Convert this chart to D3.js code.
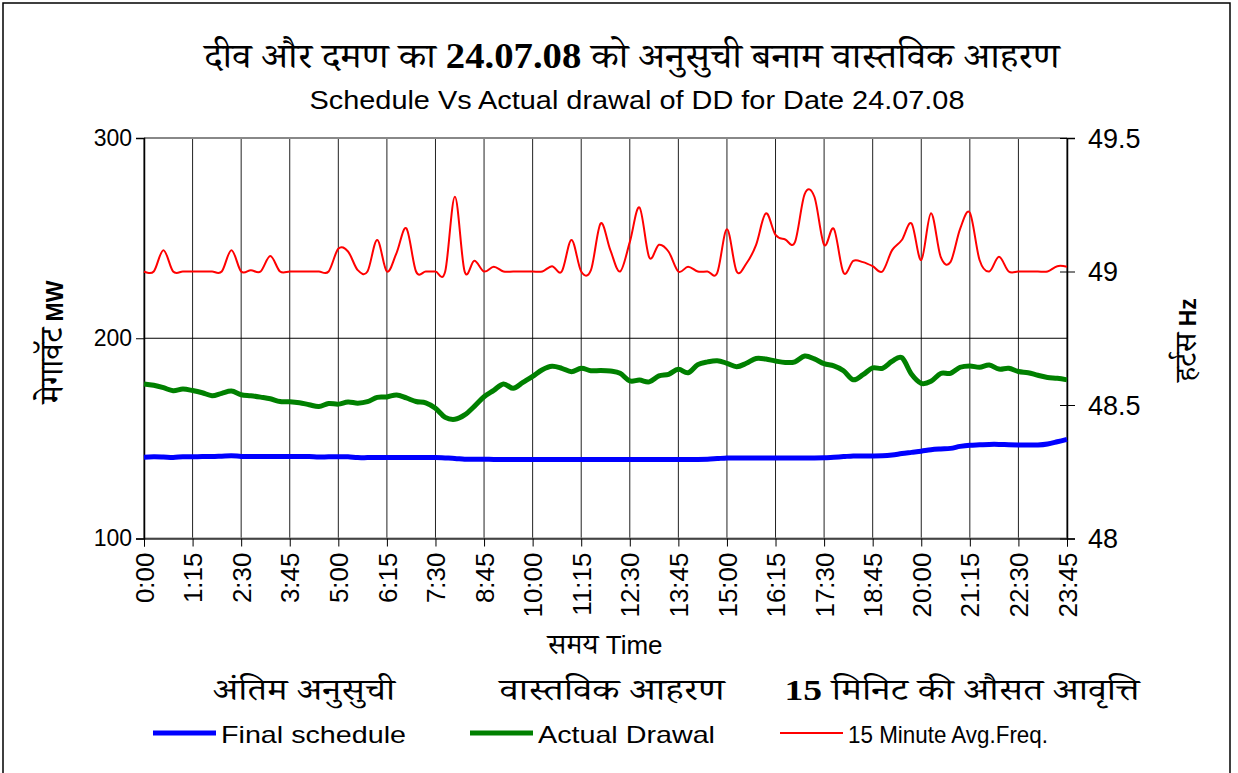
<!DOCTYPE html>
<html><head><meta charset="utf-8">
<script src="https://cdn.jsdelivr.net/npm/d3@7"></script>
<style>
body{margin:0;background:#fff;}
svg{display:block;}
.hi{font-family:"Noto Serif Devanagari","Noto Sans Devanagari","Lohit Devanagari","FreeSerif","Noto Sans",serif;}
.en{font-family:"Liberation Sans",Arial,sans-serif;}
</style></head>
<body>
<svg id="c" width="1238" height="773"></svg>
<script>
const times = ["0:00","0:15","0:30","0:45","1:00","1:15","1:30","1:45","2:00","2:15","2:30","2:45",
"3:00","3:15","3:30","3:45","4:00","4:15","4:30","4:45","5:00","5:15","5:30","5:45",
"6:00","6:15","6:30","6:45","7:00","7:15","7:30","7:45","8:00","8:15","8:30","8:45",
"9:00","9:15","9:30","9:45","10:00","10:15","10:30","10:45","11:00","11:15","11:30","11:45",
"12:00","12:15","12:30","12:45","13:00","13:15","13:30","13:45","14:00","14:15","14:30","14:45",
"15:00","15:15","15:30","15:45","16:00","16:15","16:30","16:45","17:00","17:15","17:30","17:45",
"18:00","18:15","18:30","18:45","19:00","19:15","19:30","19:45","20:00","20:15","20:30","20:45",
"21:00","21:15","21:30","21:45","22:00","22:15","22:30","22:45","23:00","23:15","23:30","23:45"];
const xTickLabels = ["0:00","1:15","2:30","3:45","5:00","6:15","7:30","8:45","10:00","11:15","12:30","13:45","15:00","16:15","17:30","18:45","20:00","21:15","22:30","23:45"];
const leftTicks = [100,200,300];
const rightTicks = [48,48.5,49,49.5];

const finalSchedule = [140.6,140.8,140.7,140.5,140.8,140.8,140.9,140.9,141.1,141.3,141.0,140.9,
140.9,140.9,140.9,140.9,140.9,140.9,140.7,140.8,140.8,140.8,140.4,140.4,
140.4,140.4,140.4,140.4,140.4,140.4,140.4,140.2,140.0,139.6,139.6,139.6,
139.5,139.5,139.5,139.4,139.5,139.5,139.5,139.5,139.4,139.5,139.5,139.5,
139.5,139.5,139.5,139.5,139.5,139.4,139.5,139.5,139.5,139.5,139.6,139.9,
140.2,140.2,140.2,140.2,140.2,140.2,140.2,140.2,140.2,140.2,140.3,140.6,
140.9,141.2,141.2,141.2,141.3,141.7,142.4,143.0,143.6,144.3,144.7,145.0,
146.0,146.6,146.8,147.0,147.0,146.8,146.7,146.7,146.7,147.2,148.3,149.5];

const actualDrawal = [177.2,176.5,175.3,173.8,174.6,173.9,172.8,171.3,172.5,173.6,171.8,171.3,
170.6,169.8,168.4,168.3,167.8,166.8,165.9,167.4,167.1,168.2,167.6,168.3,
170.5,170.7,171.7,170.2,168.4,167.7,165.0,160.5,159.5,161.7,166.0,170.8,
174.0,177.2,175.0,178.0,181.0,184.3,186.0,185.0,183.3,185.0,183.8,183.9,
183.6,182.5,178.7,179.1,178.2,181.2,182.0,184.5,182.8,186.8,188.2,188.8,
187.5,185.8,187.5,189.9,189.6,188.6,187.9,188.2,191.1,189.7,187.3,186.2,
183.8,179.3,181.8,185.2,185.0,188.5,190.3,182.0,177.5,178.5,182.4,182.5,
185.5,186.2,185.5,186.6,184.6,185.0,183.4,182.8,181.5,180.4,180.0,179.2];

const avgFreq = [49.0,49.0,49.08,49.0,49.0,49.0,49.0,49.0,49.0,49.08,49.0,49.005,
49.0,49.058,49.0,49.0,49.0,49.0,49.0,49.0,49.085,49.075,49.005,49.0,
49.118,49.0,49.07,49.162,49.0,49.0,49.0,49.0,49.28,49.0,49.04,49.0,
49.018,49.0,49.0,49.0,49.0,49.0,49.02,49.0,49.118,49.0,49.005,49.18,
49.08,49.0,49.11,49.24,49.053,49.1,49.074,49.0,49.018,49.0,49.0,48.995,
49.158,49.0,49.03,49.1,49.218,49.137,49.12,49.11,49.29,49.28,49.1,49.16,
48.995,49.04,49.035,49.02,49.0,49.08,49.118,49.18,49.043,49.218,49.055,49.035,
49.16,49.22,49.043,49.0,49.055,49.0,49.0,49.0,49.0,49.0,49.02,49.018];

const svg = d3.select("#c");
const L=144, R=1067, T=138, B=538.5;

svg.append("rect").attr("x",3).attr("y",3).attr("width",1227).attr("height",775)
  .attr("fill","none").attr("stroke","#000").attr("stroke-width",1.5);

const x = d3.scalePoint().domain(times).range([L,R]);
const yL = d3.scaleLinear().domain([100,300]).range([B,T]);
const yR = d3.scaleLinear().domain([48,49.5]).range([B,T]);

svg.append("g").selectAll("line").data(xTickLabels).join("line")
  .attr("x1",d=>x(d)).attr("x2",d=>x(d)).attr("y1",T).attr("y2",B)
  .attr("stroke","#222").attr("stroke-width",1);
svg.append("g").selectAll("line").data(leftTicks).join("line")
  .attr("x1",L).attr("x2",R).attr("y1",d=>yL(d)).attr("y2",d=>yL(d))
  .attr("stroke","#000").attr("stroke-width",1);
svg.append("line").attr("x1",L).attr("x2",R).attr("y1",T).attr("y2",T).attr("stroke","#888").attr("stroke-width",2);
svg.append("line").attr("x1",L).attr("x2",R).attr("y1",B).attr("y2",B).attr("stroke","#888").attr("stroke-width",2);

const axL = d3.axisLeft(yL).tickValues(leftTicks).tickSize(8).tickPadding(4).tickFormat(d3.format("d"));
const gL = svg.append("g").attr("transform",`translate(${L},0)`).call(axL);
gL.selectAll("text").attr("class","en").style("font-size","23px").attr("fill","#000");
gL.select(".domain").attr("stroke","#000").attr("stroke-width",1.5);

const axR = d3.axisRight(yR).tickValues(rightTicks).tickSize(8).tickPadding(13).tickFormat(d=>String(d));
const gR = svg.append("g").attr("transform",`translate(${R},0)`).call(axR);
gR.selectAll("text").attr("class","en").style("font-size","27px").attr("fill","#000").attr("dy","0.35em");
gR.select(".domain").attr("stroke","#000").attr("stroke-width",1.5);
gR.selectAll(".tick line").attr("x1",-7);

const axB = d3.axisBottom(x).tickValues(xTickLabels).tickSize(8).tickPadding(0);
const gB = svg.append("g").attr("transform",`translate(0,${B})`).call(axB);
gB.select(".domain").attr("stroke","#000").attr("stroke-width",1);
gB.selectAll("text").attr("class","en").style("font-size","26px").attr("fill","#000")
  .attr("text-anchor","end").attr("transform","translate(0,14) rotate(-90)").attr("dy","0.35em").attr("y",0).attr("x",0);

const curve = d3.curveCatmullRom.alpha(0);
const lineL = d3.line().x((d,i)=>x(times[i])).y(d=>yL(d)).curve(curve);
const lineR = d3.line().x((d,i)=>x(times[i])).y(d=>yR(d)).curve(curve);
svg.append("path").attr("d",lineL(finalSchedule)).attr("fill","none").attr("stroke","#0000FF").attr("stroke-width",5);
svg.append("path").attr("d",lineL(actualDrawal)).attr("fill","none").attr("stroke","#008000").attr("stroke-width",5);
svg.append("path").attr("d",lineR(avgFreq)).attr("fill","none").attr("stroke","#FF0000").attr("stroke-width",2);

// titles
const t1 = svg.append("text").attr("x",632).attr("y",68).attr("text-anchor","middle").attr("class","hi")
  .style("font-size","35px").attr("textLength",855).attr("lengthAdjust","spacingAndGlyphs");
t1.append("tspan").text("दीव और दमण का ");
t1.append("tspan").style("font-family","'Liberation Serif',serif").style("font-weight","bold").text("24.07.08");
t1.append("tspan").text(" को अनुसुची बनाम वास्तविक आहरण");
svg.append("text").attr("x",637).attr("y",109).attr("text-anchor","middle").attr("class","en").style("font-size","25px")
  .attr("textLength",655).attr("lengthAdjust","spacingAndGlyphs").text("Schedule Vs Actual drawal of DD for Date 24.07.08");

// axis titles
const xt = svg.append("text").attr("x",605).attr("y",654).attr("text-anchor","middle");
xt.append("tspan").attr("class","hi").style("font-size","29px").text("समय");
xt.append("tspan").attr("class","en").style("font-size","26px").text("   Time");

const ylt = svg.append("text").attr("transform","translate(63,342) rotate(-90)").attr("text-anchor","middle");
ylt.append("tspan").attr("class","hi").style("font-size","33px").text("मेगावॅट");
ylt.append("tspan").attr("class","en").style("font-size","23px").style("font-weight","bold").text("  MW");

const yrt = svg.append("text").attr("transform","translate(1196,340) rotate(-90)").attr("text-anchor","middle");
yrt.append("tspan").attr("class","hi").style("font-size","31px").text("हर्टस");
yrt.append("tspan").attr("class","en").style("font-size","23px").style("font-weight","bold").text(" Hz");

// legend (Hindi row)
const legHi = [["अंतिम अनुसुची",304,182],["वास्तविक आहरण",612,225],["15 मिनिट की औसत आवृत्ति",962,355]];
legHi.forEach(([t,cx,len],k)=>{
  const tx = svg.append("text").attr("x",cx).attr("y",700).attr("text-anchor","middle").attr("class","hi")
    .style("font-size","30px").attr("textLength",len).attr("lengthAdjust","spacingAndGlyphs");
  if(k===2){
    tx.append("tspan").style("font-family","'Liberation Serif',serif").style("font-weight","bold").text("15");
    tx.append("tspan").text(" मिनिट की औसत आवृत्ति");
  } else tx.text(t);
});
// legend (English row)
const legItems = [["Final schedule","#0000FF",5,153,185],["Actual Drawal","#008000",5,470,177],["15 Minute Avg.Freq.","#FF0000",2,780,200]];
legItems.forEach(([t,c,w,x0,len])=>{
  svg.append("line").attr("x1",x0).attr("x2",x0+63).attr("y1",733).attr("y2",733).attr("stroke",c).attr("stroke-width",w);
  svg.append("text").attr("x",x0+68).attr("y",743).attr("class","en").style("font-size","24px")
    .attr("textLength",len).attr("lengthAdjust","spacingAndGlyphs").text(t);
});
</script>
</body></html>
